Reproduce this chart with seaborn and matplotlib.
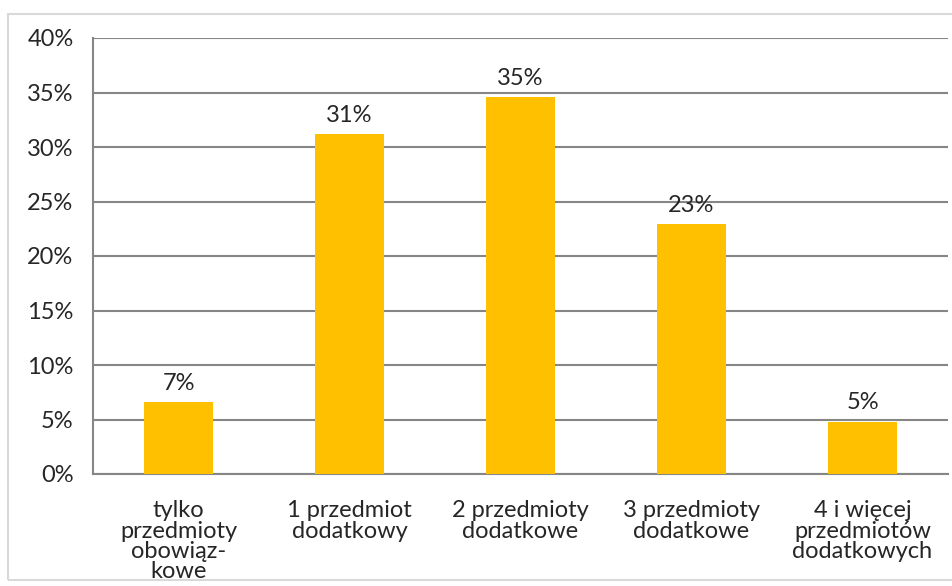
import matplotlib
matplotlib.use("Agg")
import matplotlib.pyplot as plt
import pandas as pd
import seaborn as sns
from matplotlib.patches import Rectangle
from matplotlib.ticker import FuncFormatter

categories = ["tylko\nprzedmioty\nobowiąz-\nkowe",
              "1 przedmiot\ndodatkowy",
              "2 przedmioty\ndodatkowe",
              "3 przedmioty\ndodatkowe",
              "4 i więcej\nprzedmiotów\ndodatkowych"]
values = [6.6, 31.2, 34.6, 22.9, 4.8]
y_ticks = [0, 5, 10, 15, 20, 25, 30, 35, 40]

sns.set_style("white")
plt.rcParams['font.family'] = ['Lato', 'DejaVu Sans']
FS = 17

df = pd.DataFrame({"kat": categories, "proc": values})

fig = plt.figure(figsize=(9.52, 5.86), dpi=100)
ax = fig.add_axes([93 / 952, 1 - 474 / 586, 855 / 952, 436 / 586])

# ramka wokół wykresu
fig.patches.append(Rectangle((8 / 952, 6 / 586), 1.0, 566 / 586, transform=fig.transFigure,
                             fill=False, edgecolor='#D9D9D9', linewidth=1.5, zorder=0))

sns.barplot(data=df, x="kat", y="proc", color="#FFC000", width=0.4,
            saturation=1, linewidth=0, ax=ax, zorder=3)

ax.set_xlim(-0.5, 4.5)
ax.set_ylim(0, 40)
ax.set_yticks(y_ticks)
ax.yaxis.set_major_formatter(FuncFormatter(lambda v, _: f"{v:.0f}%"))
ax.grid(axis='y', color='#868686', linewidth=1.5, zorder=0)
ax.set_axisbelow(True)

for side in ['top', 'right']:
    ax.spines[side].set_visible(False)
for side in ['left', 'bottom']:
    ax.spines[side].set_color('#868686')
    ax.spines[side].set_linewidth(1.5)

ax.set_xticks(range(len(categories)))
ax.set_xticklabels(categories, linespacing=0.95)
ax.set_xticks([i - 0.5 for i in range(len(categories) + 1)], minor=True)
ax.tick_params(axis='x', which='major', length=0, pad=19, labelsize=FS)
ax.tick_params(axis='x', which='minor', length=8, width=1.5, color='#868686')
ax.tick_params(axis='y', length=8, width=1.5, color='#868686', pad=6, labelsize=FS)
ax.set_xlabel("")
ax.set_ylabel("")

for cont in ax.containers:
    ax.bar_label(cont, labels=[f"{v:.0f}%" for v in values], padding=6, fontsize=FS)

fig.savefig("out.png", dpi=100)
